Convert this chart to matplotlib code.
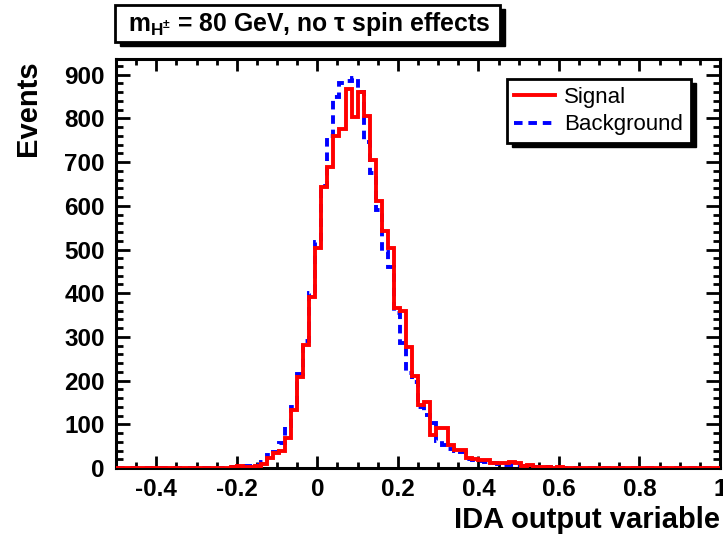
import numpy as np
import matplotlib
matplotlib.use('Agg')
import matplotlib.pyplot as plt
from matplotlib.patches import Rectangle
from matplotlib.ticker import MultipleLocator, FormatStrFormatter
from matplotlib.transforms import IdentityTransform

plt.rcParams['font.family'] = ['Liberation Sans', 'DejaVu Sans']
plt.rcParams['axes.unicode_minus'] = False

# histogram binning: 100 bins from -0.5 to 1.0
bin_edges = np.linspace(-0.5, 1.0, 101)

# signal counts per bin
signal = [0] * 17 + [1, 1, 2, 4, 2, 3, 5, 9, 24, 35, 39, 68, 133, 208, 282, 392,
                     503, 644, 688, 760, 775, 867, 803, 860, 806, 704, 612, 543, 504,
                     367, 360, 278, 211, 144, 150, 76, 91, 91, 53, 41, 41, 22, 20, 18,
                     18, 12, 11, 11, 14, 11, 5, 6, 3, 2, 3, 1, 2, 1, 1, 0, 1, 1]
signal = signal + [0] * (100 - len(signal))

# background counts per bin
background = [0] * 17 + [1, 2, 2, 3, 4, 5, 7, 14, 30, 37, 57, 95, 140, 215, 290, 400,
                         518, 646, 760, 850, 880, 885, 892, 860, 745, 675, 590, 495, 460,
                         355, 287, 218, 197, 140, 121, 103, 62, 52, 43, 38, 37, 20, 18, 16,
                         14, 11, 9, 8, 7, 5, 5, 4, 3, 2, 2, 1, 1, 1]
background = background + [0] * (100 - len(background))

W, H = 723, 538
fig = plt.figure(figsize=(W / 100, H / 100), dpi=100)
ax = fig.add_axes([116 / W, 1 - 468 / H, (720 - 116) / W, (468 - 59) / H])

ax.stairs(background, bin_edges, color='blue', lw=2.8, linestyle=(0, (2.2, 1.5)),
          label='Background', zorder=2)
ax.stairs(signal, bin_edges, color='red', lw=2.8, label='Signal', zorder=3)

ax.set_xlim(-0.5, 1.0)
ax.set_ylim(0, 936)

ax.xaxis.set_major_locator(MultipleLocator(0.2))
ax.xaxis.set_minor_locator(MultipleLocator(0.05))
ax.yaxis.set_major_locator(MultipleLocator(100))
ax.yaxis.set_minor_locator(MultipleLocator(20))
ax.xaxis.set_major_formatter(FormatStrFormatter('%g'))
ax.yaxis.set_major_formatter(FormatStrFormatter('%d'))

for s in ax.spines.values():
    s.set_linewidth(2.2)
ax.tick_params(which='both', direction='in', top=True, right=True, width=2.0)
ax.tick_params(axis='x', which='major', length=8.6, pad=7)
ax.tick_params(axis='x', which='minor', length=4.3)
ax.tick_params(axis='y', which='major', length=10, pad=8)
ax.tick_params(axis='y', which='minor', length=5)
for lab in ax.get_xticklabels() + ax.get_yticklabels():
    lab.set_fontsize(17.5)
    lab.set_fontweight('bold')

fig.text(28 / W, 1 - 60 / H, 'Events', rotation=90, ha='center', va='top',
         fontsize=21, fontweight='bold')
fig.text(720 / W, 1 - 520 / H, 'IDA output variable', ha='right', va='center',
         fontsize=21, fontweight='bold')

# title box with ROOT-style drop shadow
bx0, bx1, by0, by1 = 115, 500, 5, 42
fig.add_artist(Rectangle((bx0 + 5, H - by1 - 4), bx1 - bx0, by1 - by0, transform=IdentityTransform(),
                         facecolor='black', edgecolor='black', zorder=1))
fig.add_artist(Rectangle((bx0, H - by1), bx1 - bx0, by1 - by0, transform=IdentityTransform(),
                         facecolor='white', edgecolor='black', lw=2, zorder=2))
fig.text(128 / W, 1 - 24 / H, r'm$_{\mathregular{H^{\pm}}}$ = 80 GeV, no τ spin effects',
         ha='left', va='center', fontsize=17.8, fontweight='bold', zorder=3)

leg = ax.legend(handles=ax.get_legend_handles_labels()[0][::-1],
                loc='upper right', bbox_to_anchor=(691 / W, 1 - 79 / H),
                bbox_transform=fig.transFigure, borderaxespad=0, fontsize=16,
                fancybox=False, framealpha=1, edgecolor='black',
                handlelength=1.85, handletextpad=0.4, labelspacing=0.3,
                borderpad=0.35)
leg.get_frame().set_linewidth(2)
leg.set_zorder(6)

fig.canvas.draw()
bb = leg.get_window_extent()
ax.add_patch(Rectangle((bb.x0 + 5, bb.y0 - 4), bb.width, bb.height,
                       transform=IdentityTransform(), facecolor='black',
                       edgecolor='black', zorder=5.9, clip_on=False))

fig.savefig('out.png', dpi=100)
